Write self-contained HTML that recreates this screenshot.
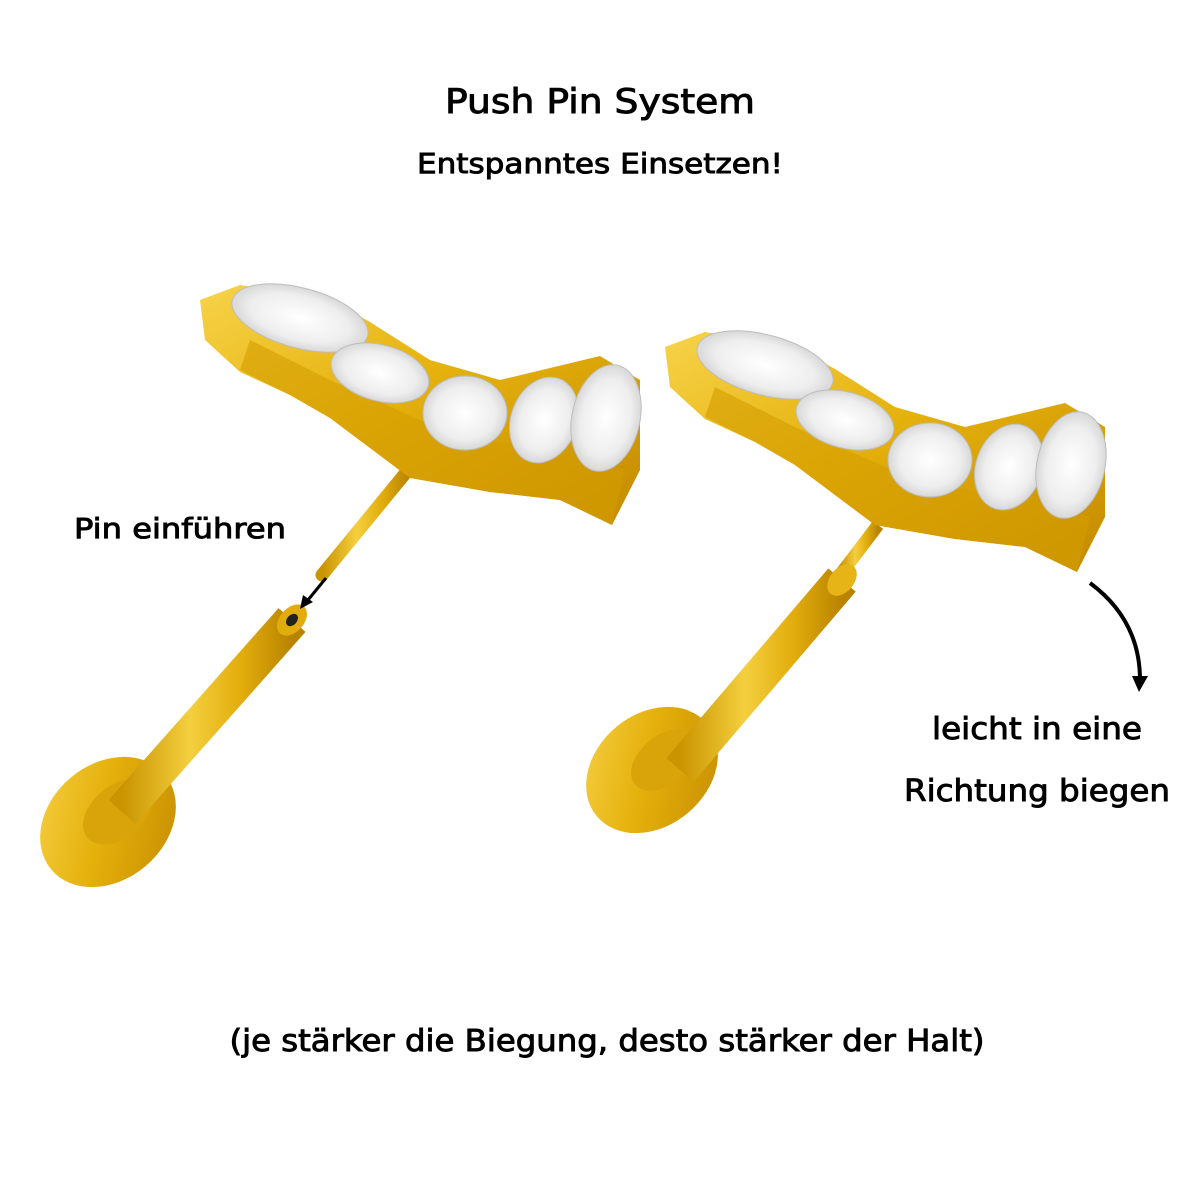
<!DOCTYPE html>
<html><head><meta charset="utf-8"><style>html,body{margin:0;padding:0;background:#fff}svg{display:block}</style></head>
<body>
<svg width="1200" height="1200" viewBox="0 0 1200 1200" xmlns="http://www.w3.org/2000/svg">
<defs>
<linearGradient id="g" x1="0" y1="0" x2="1" y2="1">
<stop offset="0" stop-color="#f7d34a"/><stop offset="0.45" stop-color="#e5b10c"/><stop offset="1" stop-color="#c48a00"/></linearGradient>
<linearGradient id="sh" x1="0" y1="0" x2="1" y2="0">
<stop offset="0" stop-color="#c99400"/><stop offset="0.4" stop-color="#f4cf3e"/><stop offset="0.7" stop-color="#e2ad0c"/><stop offset="1" stop-color="#b98300"/></linearGradient>
<radialGradient id="st" cx="0.5" cy="0.5" r="0.6">
<stop offset="0" stop-color="#ffffff"/><stop offset="0.6" stop-color="#eeeeee"/><stop offset="1" stop-color="#c8c8c8"/></radialGradient>
<g id="crown">
<polygon points="200,300 240,285 330,300 370,322 430,360 500,380 600,356 640,380 640,470 612,525 560,500 490,492 410,478 330,418 290,395 240,372 205,340" fill="url(#g)"/>
<polygon points="240,370 290,395 330,418 410,478 490,492 560,500 612,525 625,470 560,450 480,440 420,420 330,380 250,340" fill="#d39d00" opacity="0.6"/>
<ellipse cx="300" cy="318" rx="70" ry="30" transform="rotate(15 300 318)" fill="url(#st)" stroke="#bdbdbd"/>
<ellipse cx="380" cy="373" rx="50" ry="28" transform="rotate(15 380 373)" fill="url(#st)" stroke="#bdbdbd"/>
<ellipse cx="465" cy="413" rx="42" ry="37" fill="url(#st)" stroke="#bdbdbd"/>
<ellipse cx="544" cy="420" rx="33" ry="44" transform="rotate(20 544 420)" fill="url(#st)" stroke="#bdbdbd"/>
<ellipse cx="606" cy="418" rx="34" ry="54" transform="rotate(12 606 418)" fill="url(#st)" stroke="#bdbdbd"/>
</g>
</defs>

<g font-family="DejaVu Sans, sans-serif" stroke="#000" stroke-width="0.9">
<text x="600" y="113" text-anchor="middle" font-size="34" textLength="310" lengthAdjust="spacingAndGlyphs">Push Pin System</text>
<text x="600" y="173" text-anchor="middle" font-size="28" textLength="366" lengthAdjust="spacingAndGlyphs">Entspanntes Einsetzen!</text>
<text x="74" y="538" font-size="28" textLength="212" lengthAdjust="spacingAndGlyphs">Pin einführen</text>
<text x="1037" y="739" text-anchor="middle" font-size="30" textLength="210" lengthAdjust="spacingAndGlyphs">leicht in eine</text>
<text x="1037" y="801" text-anchor="middle" font-size="30" textLength="266" lengthAdjust="spacingAndGlyphs">Richtung biegen</text>
<text x="607" y="1051" text-anchor="middle" font-size="30" textLength="755" lengthAdjust="spacingAndGlyphs">(je stärker die Biegung, desto stärker der Halt)</text>
</g>

<!-- left earring -->
<line x1="322" y1="575" x2="408" y2="470" stroke="url(#sh)" stroke-width="13" stroke-linecap="round"/>
<use href="#crown"/>
<ellipse cx="108" cy="822" rx="74" ry="58" transform="rotate(-40 108 822)" fill="url(#g)"/>
<ellipse cx="118" cy="812" rx="40" ry="26" transform="rotate(-40 118 812)" fill="#d9a30a"/>
<line x1="122" y1="812" x2="292" y2="620" stroke="url(#sh)" stroke-width="36" stroke-linecap="butt"/>
<ellipse cx="292" cy="620" rx="18" ry="12" transform="rotate(-48 292 620)" fill="#e2ad0c"/>
<ellipse cx="292" cy="620" rx="7" ry="5" transform="rotate(-48 292 620)" fill="#222"/>
<line x1="326" y1="578" x2="308" y2="600" stroke="#000" stroke-width="3"/>
<polygon points="300,609 303,595 313,602" fill="#000"/>

<!-- right earring -->
<line x1="840" y1="575" x2="878" y2="525" stroke="url(#sh)" stroke-width="13"/>
<use href="#crown" transform="translate(465,47)"/>
<ellipse cx="652" cy="770" rx="72" ry="56" transform="rotate(-40 652 770)" fill="url(#g)"/>
<ellipse cx="664" cy="760" rx="38" ry="24" transform="rotate(-40 664 760)" fill="#d9a30a"/>
<line x1="680" y1="770" x2="842" y2="580" stroke="url(#sh)" stroke-width="36"/>
<ellipse cx="842" cy="580" rx="18" ry="12" transform="rotate(-50 842 580)" fill="#e6b417"/>
<path d="M1090,583 Q1140,620 1140,680" fill="none" stroke="#000" stroke-width="4"/>
<polygon points="1132,676 1148,676 1139,692" fill="#000"/>
</svg>
</body></html>
